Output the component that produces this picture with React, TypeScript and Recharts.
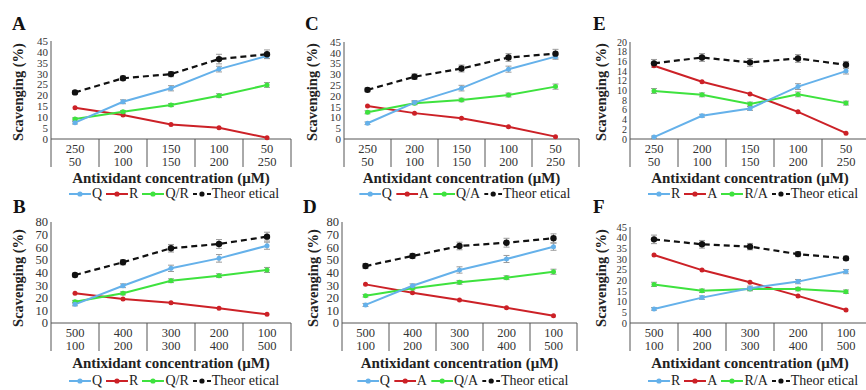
import React from 'react';
import { LineChart, Line, XAxis, YAxis, ErrorBar } from 'recharts';

// ---------- categories / ticks ----------
const topFirst = ['250', '200', '150', '100', '50'];
const topSecond = ['50', '100', '150', '200', '250'];
const botFirst = ['500', '400', '300', '200', '100'];
const botSecond = ['100', '200', '300', '400', '500'];
const ticks45 = [0, 5, 10, 15, 20, 25, 30, 35, 40, 45];
const ticks20 = [0, 2, 4, 6, 8, 10, 12, 14, 16, 18, 20];
const ticks80 = [0, 10, 20, 30, 40, 50, 60, 70, 80];

// ---------- Panel A (Q, R, Q/R) ----------
const aQ = [7.5, 17.1, 23.3, 32.1, 38.1];
const aR = [14.4, 11.0, 6.7, 5.2, 0.6];
const aQR = [9.2, 12.5, 15.6, 19.9, 24.8];
const aTh = [21.4, 27.9, 29.8, 36.7, 38.9];
const aThErr = [0.8, 1.0, 1.2, 2.2, 2.0];
const aQErr = [0.6, 0.9, 1.2, 1.3, 1.1];
const aQRErr = [0.5, 0.6, 0.7, 0.9, 1.1];

// ---------- Panel C (Q, A, Q/A) ----------
const cQ = [7.3, 16.9, 23.6, 32.4, 38.2];
const cA = [15.3, 12.0, 9.6, 5.7, 1.1];
const cQA = [12.4, 16.6, 18.1, 20.4, 24.3];
const cTh = [22.8, 28.9, 32.7, 37.8, 39.6];
const cThErr = [0.9, 1.3, 1.6, 1.8, 2.0];
const cQErr = [0.6, 0.9, 1.3, 1.4, 1.2];
const cQAErr = [0.7, 0.7, 0.8, 0.9, 1.2];

// ---------- Panel E (R, A, R/A) ----------
const eR = [0.4, 4.8, 6.3, 10.8, 14.0];
const eA = [15.1, 11.8, 9.3, 5.6, 1.2];
const eRA = [9.9, 9.1, 7.2, 9.2, 7.4];
const eTh = [15.6, 16.8, 15.8, 16.6, 15.3];
const eThErr = [0.8, 0.8, 0.8, 0.8, 0.7];
const eRErr = [0.2, 0.3, 0.4, 0.6, 0.6];
const eRAErr = [0.5, 0.4, 0.4, 0.5, 0.4];

// ---------- Panel B (Q, R, Q/R) ----------
const bQ = [14.8, 29.5, 43.3, 51.2, 61.2];
const bR = [23.5, 19.0, 16.1, 11.6, 6.9];
const bQR = [16.9, 23.5, 33.5, 37.5, 42.0];
const bTh = [38.0, 48.1, 59.2, 62.6, 68.4];
const bThErr = [1.5, 2.0, 3.0, 3.5, 3.5];
const bQErr = [1.2, 1.5, 2.5, 3.0, 2.8];
const bQRErr = [1.0, 1.2, 1.5, 1.5, 2.0];

// ---------- Panel D (Q, A, Q/A) ----------
const dQ = [14.3, 29.5, 42.0, 50.7, 60.4];
const dA = [30.6, 24.0, 18.2, 12.1, 5.8];
const dQA = [21.6, 27.5, 32.2, 35.9, 40.6];
const dTh = [45.1, 53.1, 61.0, 63.6, 67.1];
const dThErr = [2.0, 2.0, 3.0, 3.5, 3.5];
const dQErr = [1.2, 1.5, 2.5, 2.8, 2.8];
const dQAErr = [1.0, 1.2, 1.5, 1.5, 2.0];

// ---------- Panel F (R, A, R/A) ----------
const fR = [6.6, 11.9, 16.3, 19.4, 24.1];
const fA = [31.9, 24.8, 19.1, 12.7, 6.1];
const fRA = [18.1, 15.1, 15.9, 15.9, 14.7];
const fTh = [39.2, 36.9, 35.8, 32.3, 30.3];
const fThErr = [2.0, 1.8, 1.5, 1.2, 1.0];
const fRErr = [0.6, 0.8, 1.0, 1.0, 1.0];
const fRAErr = [1.0, 0.8, 0.8, 0.8, 0.8];

const BLUE = '#65b1ea';
const RED = '#cc2127';
const GREEN = '#3ee23e';
const BLACK = '#111111';
const AXIS = '#555555';
const SERIF = "'Liberation Serif', 'Times New Roman', serif";

const rows = [
  { letterBase: 30, yTitleCy: 92, titleBase: 183, legendCy: 194 },
  { letterBase: 213, yTitleCy: 278, titleBase: 368, legendCy: 381 },
];

const panels = [
  { letter: 'A', row: 0, letterX: 12, yTitleX: 18, x0: 51, bw: 48, top: 41, bottom: 139, yMax: 45, yTicks: ticks45, tickFs: 11,
    first: topFirst, second: topSecond, blue: aQ, red: aR, green: aQR, th: aTh, thErr: aThErr, blueErr: aQErr, greenErr: aQRErr,
    names: ['Q', 'R', 'Q/R'] },
  { letter: 'C', row: 0, letterX: 305, yTitleX: 312, x0: 344, bw: 47, top: 42, bottom: 139, yMax: 45, yTicks: ticks45, tickFs: 11,
    first: topFirst, second: topSecond, blue: cQ, red: cA, green: cQA, th: cTh, thErr: cThErr, blueErr: cQErr, greenErr: cQAErr,
    names: ['Q', 'A', 'Q/A'] },
  { letter: 'E', row: 0, letterX: 593, yTitleX: 601, x0: 630, bw: 48, top: 42, bottom: 139, yMax: 20, yTicks: ticks20, tickFs: 10,
    first: topFirst, second: topSecond, blue: eR, red: eA, green: eRA, th: eTh, thErr: eThErr, blueErr: eRErr, greenErr: eRAErr,
    names: ['R', 'A', 'R/A'] },
  { letter: 'B', row: 1, letterX: 13, yTitleX: 18, x0: 51, bw: 48, top: 222, bottom: 323, yMax: 80, yTicks: ticks80, tickFs: 12.5,
    first: botFirst, second: botSecond, blue: bQ, red: bR, green: bQR, th: bTh, thErr: bThErr, blueErr: bQErr, greenErr: bQRErr,
    names: ['Q', 'R', 'Q/R'] },
  { letter: 'D', row: 1, letterX: 303, yTitleX: 313, x0: 342, bw: 47, top: 222, bottom: 323, yMax: 80, yTicks: ticks80, tickFs: 12.5,
    first: botFirst, second: botSecond, blue: dQ, red: dA, green: dQA, th: dTh, thErr: dThErr, blueErr: dQErr, greenErr: dQAErr,
    names: ['Q', 'A', 'Q/A'] },
  { letter: 'F', row: 1, letterX: 593, yTitleX: 601, x0: 630, bw: 48, top: 227, bottom: 323, yMax: 45, yTicks: ticks45, tickFs: 10.5,
    first: botFirst, second: botSecond, blue: fR, red: fA, green: fRA, th: fTh, thErr: fThErr, blueErr: fRErr, greenErr: fRAErr,
    names: ['R', 'A', 'R/A'] },
];

const CatTick = (props: any) => {
  const { x, y, payload, index, bw } = props;
  const [t, b] = String(payload.value).split('|');
  const st = { fontFamily: SERIF, fontSize: 12.5, fill: '#333' };
  return (
    <g>
      <text x={x} y={y + 14} textAnchor="middle" style={st}>{t}</text>
      <text x={x} y={y + 26.5} textAnchor="middle" style={st}>{b}</text>
      <line x1={x + bw / 2} x2={x + bw / 2} y1={y} y2={y + 28} stroke={AXIS} strokeWidth={1} />
      {index === 0 ? <line x1={x - bw / 2} x2={x - bw / 2} y1={y} y2={y + 28} stroke={AXIS} strokeWidth={1} /> : null}
    </g>
  );
};

function Panel({ p }: { p: any }) {
  const YW = 45;
  const chartLeft = p.x0 - YW;
  const chartTop = p.top - 6;
  const plotW = 5 * p.bw;
  const width = YW + plotW + 2;
  const height = p.bottom - chartTop + 40;
  const data = p.first.map((f: string, i: number) => ({
    cat: f + '|' + p.second[i],
    th: p.th[i], thE: p.thErr[i],
    b: p.blue[i], bE: p.blueErr[i],
    r: p.red[i],
    g: p.green[i], gE: p.greenErr[i],
  }));
  const err = (k: string) => (
    <ErrorBar dataKey={k} width={3} strokeWidth={1} stroke="#9a9a9a" direction="y" isAnimationActive={false} />
  );
  return (
    <div style={{ position: 'absolute', left: chartLeft, top: chartTop }}>
      <LineChart width={width} height={height} data={data} margin={{ top: 6, right: 2, bottom: 0, left: 0 }}>
        <XAxis
          dataKey="cat"
          height={40}
          padding={{ left: p.bw / 2, right: p.bw / 2 }}
          axisLine={{ stroke: AXIS }}
          tickLine={false}
          tickSize={0}
          tickMargin={0}
          interval={0}
          tick={<CatTick bw={p.bw} />}
        />
        <YAxis
          width={YW}
          type="number"
          domain={[0, p.yMax]}
          ticks={p.yTicks}
          interval={0}
          axisLine={{ stroke: AXIS }}
          tickLine={false}
          tickSize={0}
          tickMargin={3}
          tick={{ fontSize: p.tickFs, fill: '#333', fontFamily: SERIF }}
        />
        <Line dataKey="r" stroke={RED} strokeWidth={2} dot={{ r: 2.5, fill: RED, stroke: RED, strokeWidth: 0 }} activeDot={false} isAnimationActive={false} />
        <Line dataKey="g" stroke={GREEN} strokeWidth={2} dot={{ r: 2.5, fill: GREEN, stroke: GREEN, strokeWidth: 0 }} activeDot={false} isAnimationActive={false}>
          {err('gE')}
        </Line>
        <Line dataKey="b" stroke={BLUE} strokeWidth={2} dot={{ r: 2.5, fill: BLUE, stroke: BLUE, strokeWidth: 0 }} activeDot={false} isAnimationActive={false}>
          {err('bE')}
        </Line>
        <Line dataKey="th" stroke={BLACK} strokeWidth={2.2} strokeDasharray="6 4" dot={{ r: 3.2, fill: BLACK, stroke: BLACK, strokeWidth: 0 }} activeDot={false} isAnimationActive={false}>
          {err('thE')}
        </Line>
      </LineChart>
    </div>
  );
}

const LegendIcon = ({ color, dashed }: { color: string; dashed?: boolean }) => (
  <svg width={dashed ? 18 : 22} height={10} style={{ display: 'block' }}>
    <line x1={0} x2={dashed ? 18 : 22} y1={5} y2={5} stroke={color} strokeWidth={2} strokeDasharray={dashed ? '4 3' : undefined} />
    <circle cx={dashed ? 9 : 11} cy={5} r={2.6} fill={color} />
  </svg>
);

function PanelLegend({ p }: { p: any }) {
  const r = rows[p.row];
  const cx = p.x0 + 2.5 * p.bw + 5;
  const items = [
    { c: BLUE, n: p.names[0] },
    { c: RED, n: p.names[1] },
    { c: GREEN, n: p.names[2] },
    { c: BLACK, n: 'Theor etical', d: true },
  ];
  return (
    <div
      style={{
        position: 'absolute', left: cx, top: r.legendCy - 7, height: 14, transform: 'translateX(-50%)',
        display: 'flex', alignItems: 'center', whiteSpace: 'nowrap',
        fontFamily: SERIF, fontSize: 14, color: '#222', lineHeight: '14px',
      }}
    >
      {items.map((it, i) => (
        <div key={i} style={{ display: 'flex', alignItems: 'center', marginRight: 4 }}>
          <LegendIcon color={it.c} dashed={it.d} />
          <span style={{ marginLeft: 1 }}>{it.n}</span>
        </div>
      ))}
    </div>
  );
}

export default function App() {
  return (
    <div style={{ position: 'absolute', left: 0, top: 0, width: 866, height: 390, overflow: 'hidden', background: '#fff' }}>
      {panels.map((p) => (
        <Panel key={p.letter} p={p} />
      ))}
      <svg width={866} height={390} style={{ position: 'absolute', left: 0, top: 0, pointerEvents: 'none' }}>
        {panels.map((p) => {
          const r = rows[p.row];
          const cx = p.x0 + 2.5 * p.bw;
          return (
            <g key={p.letter}>
              <text x={p.letterX} y={r.letterBase} style={{ fontFamily: SERIF, fontSize: 19, fontWeight: 700, fill: '#111' }}>{p.letter}</text>
              <text
                transform={`translate(${p.yTitleX},${r.yTitleCy}) rotate(-90)`}
                textAnchor="middle"
                dominantBaseline="central"
                style={{ fontFamily: SERIF, fontSize: 14.5, fontWeight: 700, fill: '#222' }}
              >
                Scavenging (%)
              </text>
              <text x={cx} y={r.titleBase} textAnchor="middle" style={{ fontFamily: SERIF, fontSize: 15, fontWeight: 700, fill: '#222' }}>
                Antixidant concentration (μM)
              </text>
            </g>
          );
        })}
      </svg>
      {panels.map((p) => (
        <PanelLegend key={'l' + p.letter} p={p} />
      ))}
    </div>
  );
}
